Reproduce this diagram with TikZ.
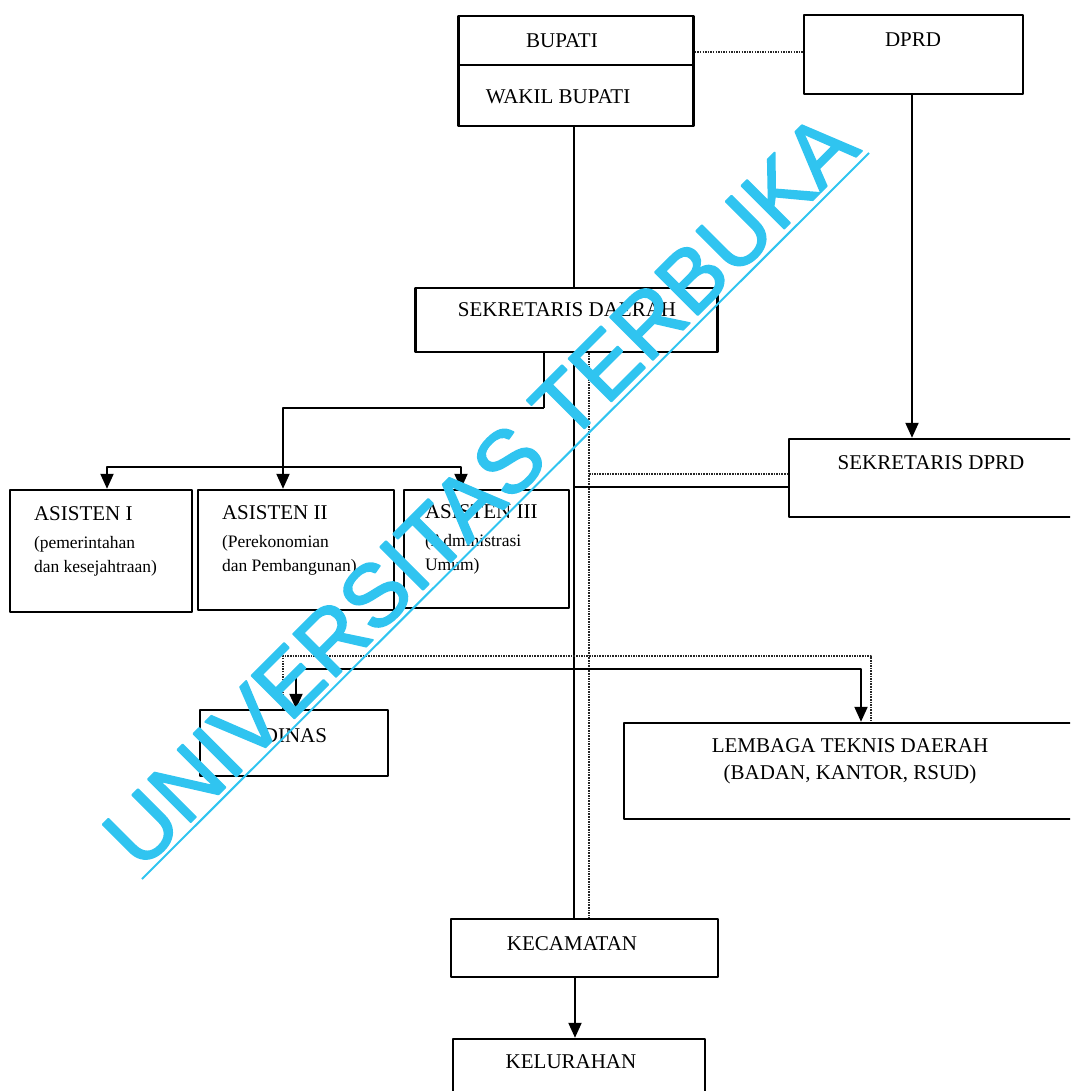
\documentclass[tikz,border=0pt]{standalone}
\usepackage{fontspec}
\setmainfont{Liberation Serif}
\newfontfamily\wmfont{Liberation Sans}
\usetikzlibrary{arrows.meta}
\definecolor{wmcyan}{RGB}{48,196,240}
\newcommand{\wmstroke}[1]{\special{pdf:literal direct 2 Tr 1.8 w}#1\special{pdf:literal direct 0 Tr}}
\begin{document}
\begin{tikzpicture}[x=1pt,y=-1pt,line join=round,>={Triangle[width=13pt,length=15pt]},line width=2pt]
	\tikzset{box/.style={draw,line width=2.4pt,inner sep=0pt},
		lbl/.style={font=\fontsize{21}{27}\selectfont,inner sep=0pt},
		sub/.style={font=\fontsize{17.5}{24.5}\selectfont,inner sep=0pt,align=left,anchor=north west},
		dotline/.style={line width=1.6pt,dash pattern=on 1.5pt off 1.1pt,black!85},
		wm/.style={font=\wmfont\fontsize{88}{88}\selectfont,text=wmcyan,inner sep=0pt}}
	\useasboundingbox (0,0) rectangle (1070,1091);
	\clip (0,0) rectangle (1070,1091);
	% boxes
	\node[box,minimum width=235pt,minimum height=110pt] (bupati) at (576,71) {};
	\draw[line width=2.4pt] (bupati.west |- 0,65) -- (bupati.east |- 0,65);
	\node[lbl] (bupatit) at (562,41) {BUPATI};
	\node[lbl] (wakilt) at (558,97) {WAKIL BUPATI};
	\node[box,minimum width=219pt,minimum height=79pt] (dprd) at (913.5,54.5) {};
	\node[lbl] (dprdt) at (913,40) {DPRD};
	\node[box,minimum width=302pt,minimum height=64pt] (sekda) at (566.5,320) {};
	\node[lbl] (sekdat) at (567,310) {SEKRETARIS DAERAH};
	\node[box,minimum width=290pt,minimum height=78pt] (sekdprd) at (934,478) {};
	\node[lbl] (sekdprdt) at (931,463) {SEKRETARIS DPRD};
	\node[box,minimum width=182pt,minimum height=122pt] (asis1) at (101,551) {};
	\node[box,minimum width=196pt,minimum height=120pt] (asis2) at (296,550) {};
	\node[box,minimum width=165pt,minimum height=118pt] (asis3) at (486.5,549) {};
	\node[lbl,anchor=base west] (asis1t) at (33,520) {ASISTEN I};
	\node[sub] (asis1s) at (33,535) {(pemerintahan\\dan kesejahtraan)};
	\node[lbl,anchor=base west] (asis2t) at (221,519) {ASISTEN II};
	\node[sub] (asis2s) at (221,534) {(Perekonomian\\dan Pembangunan)};
	\node[lbl,anchor=base west] (asis3t) at (424,518) {ASISTEN III};
	\node[sub] (asis3s) at (424,533) {(Administrasi\\Umum)};
	\node[box,minimum width=188pt,minimum height=66pt] (dinas) at (294,743) {};
	\node[lbl] (dinast) at (295,736) {DINAS};
	\node[box,minimum width=460pt,minimum height=96pt] (lemb) at (854,771) {};
	\node[lbl,align=center] (lembt) at (850,761) {LEMBAGA TEKNIS DAERAH\\(BADAN, KANTOR, RSUD)};
	\node[box,minimum width=267pt,minimum height=58pt] (kec) at (584.5,948) {};
	\node[lbl] (kect) at (572,944) {KECAMATAN};
	\node[box,minimum width=252pt,minimum height=70pt] (kel) at (579,1074) {};
	\node[lbl] (kelt) at (571,1062) {KELURAHAN};
	% lines
	\draw[dotline] (bupati.east |- 0,52) -- (dprd.west |- 0,52);
	\draw (bupati.south -| 574,0) -- (sekda.north -| 574,0);
	\draw[->] (dprd.south -| 912,0) -- (sekdprd.north -| 912,0);
	\coordinate (sdj) at (544,408);
	\coordinate (abar) at (283,467);
	\draw (sekda.south -| sdj) -- (sdj);
	\draw[->] (sdj) -| (asis2.north -| abar);
	\draw[->] (abar) -| (asis1.north -| 107,0);
	\draw[->] (abar) -| (asis3.north -| 461,0);
	\draw (sekda.south -| 574,0) -- (kec.north -| 574,0);
	\draw[dotline] (sekda.south -| 589,0) -- (kec.north -| 589,0);
	\draw[dotline] (589,474) -- (sekdprd.west |- 0,474);
	\draw (574,487) -- (sekdprd.west |- 0,487);
	\coordinate (dbar) at (574,669);
	\draw[dotline] (dinas.north -| 283,0) -- (283,656) -- (871,656) -- (lemb.north -| 871,0);
	\draw[->] (dbar) -| (dinas.north -| 296,0);
	\draw[->] (dbar) -| (lemb.north -| 861,0);
	\draw[->] (kec.south -| 575,0) -- (kel.north -| 575,0);
	% watermark
	\node[wm,rotate=45] (wmtext) at (480,490) {\wmstroke{UNIVERSITAS TERBUKA}};
	\draw[wmcyan,line width=2pt] (142,879) -- (869,153);
\end{tikzpicture}
\end{document}
